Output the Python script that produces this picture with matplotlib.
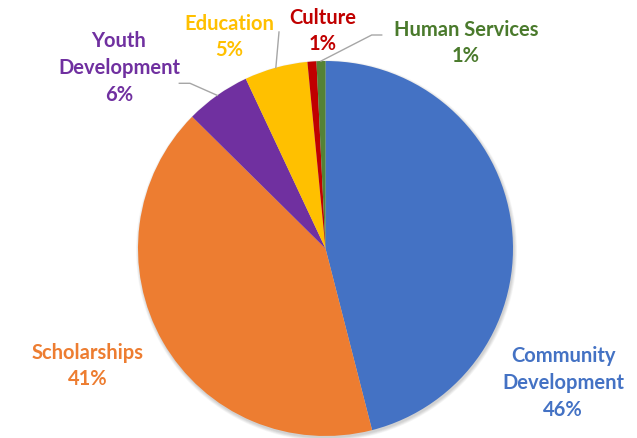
import numpy as np
import matplotlib.pyplot as plt
from matplotlib.patches import Circle

# slice data, clockwise from the top
labels = ["Community\nDevelopment", "Scholarships", "Youth\nDevelopment",
          "Education", "Culture", "Human Services"]
values = [46.0, 41.4, 5.6, 5.45, 0.77, 0.77]
pcts = ["46%", "41%", "6%", "5%", "1%", "1%"]
colors = ["#4472C4", "#ED7D31", "#7030A0", "#FFC000", "#C00000", "#548235"]
text_colors = ["#4472C4", "#ED7D31", "#7030A0", "#FFC000", "#C00000", "#4A7A2C"]

W, H = 637, 438
cx, cy, r = 325.5, H - 248.5, 187.5

# label centres (pixel coords, y from top)
label_xy = [(563, 383), (88, 366), (119, 68), (229, 37), (323, 31), (466, 43)]
# leader line elbows (None = no line)
leaders = [None, None, [(190, 83.3), (179.3, 83.3)], [(279, 32)], None,
           [(371.7, 35), (381.7, 35)]]

fig = plt.figure(figsize=(W / 100, H / 100), dpi=100)
ax = fig.add_axes([0, 0, 1, 1])

# soft shadow
for k in range(6):
    ax.add_patch(Circle((cx + 1.0, cy - 2.0), r + 3 - k * 0.6,
                        color="#000000", alpha=0.03, lw=0, zorder=0))

wedges, _ = ax.pie(values, colors=colors, startangle=90, counterclock=False,
                   center=(cx, cy), radius=r, frame=True,
                   wedgeprops=dict(linewidth=0))
ax.set_xlim(0, W)
ax.set_ylim(0, H)
ax.set_aspect("equal")
ax.axis("off")

for i, w in enumerate(wedges):
    tx, ty = label_xy[i]
    ax.text(tx, H - ty, labels[i] + "\n" + pcts[i], ha="center", va="center",
            color=text_colors[i], fontsize=14.5, fontweight="bold",
            family=["Lato", "DejaVu Sans"], linespacing=1.42)
    if leaders[i]:
        mid = np.deg2rad((w.theta1 + w.theta2) / 2)
        xs = [cx + r * np.cos(mid)] + [p[0] for p in leaders[i]]
        ys = [cy + r * np.sin(mid)] + [H - p[1] for p in leaders[i]]
        ax.plot(xs, ys, color="#A6A6A6", lw=1.0, zorder=3)

fig.savefig("out.png", dpi=100)
